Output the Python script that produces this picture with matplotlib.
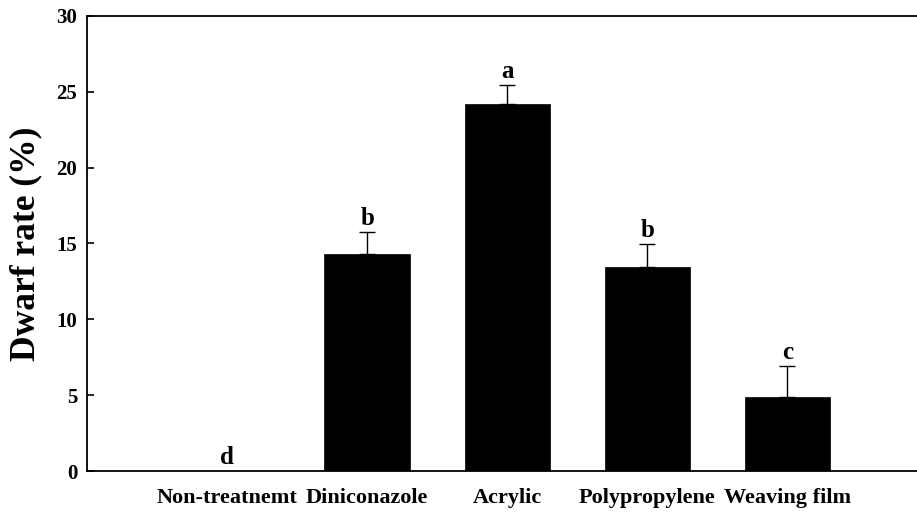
import matplotlib
matplotlib.use("Agg")
import matplotlib.pyplot as plt
import numpy as np

categories = ["Non-treatnemt", "Diniconazole", "Acrylic", "Polypropylene", "Weaving film"]
dwarf_rate = [0.0, 14.28, 24.19, 13.42, 4.87]
error_up = [0.0, 1.49, 1.25, 1.53, 2.08]
letters = ["d", "b", "a", "b", "c"]
yticks = [0, 5, 10, 15, 20, 25, 30]

plt.rcParams['font.family'] = ['Liberation Serif', 'DejaVu Serif']
plt.rcParams['font.weight'] = 'bold'

fig = plt.figure(figsize=(9.17, 5.12), dpi=100)
ax = fig.add_axes([0.0949, 0.080, 1.0 - 0.0949, 0.969 - 0.080])

x = np.arange(len(categories))
ax.bar(x, dwarf_rate, width=0.61, color='black', edgecolor='black', linewidth=0.5, zorder=2)
errx = [xi for xi, e in zip(x, error_up) if e > 0]
erry = [v for v, e in zip(dwarf_rate, error_up) if e > 0]
erre = [e for e in error_up if e > 0]
ax.errorbar(errx, erry, yerr=[np.zeros(len(erre)), erre], fmt='none', ecolor='black',
            elinewidth=1.0, capsize=6, capthick=1.0, zorder=3)

for xi, v, e, lab in zip(x, dwarf_rate, error_up, letters):
    ax.text(xi, v + e + 0.45, lab, ha='center', va='baseline', fontsize=18, fontweight='bold')

ax.set_xlim(-1.0, 4.925)
ax.set_ylim(0, 30)
ax.set_yticks(yticks)
ax.set_yticklabels([str(t) for t in yticks])
ax.set_xticks(x)
ax.set_xticklabels(categories)
ax.tick_params(axis='y', direction='in', length=5, width=1.2, labelsize=15, pad=7)
ax.tick_params(axis='x', length=0, labelsize=16, pad=12)
for lab in ax.get_xticklabels() + ax.get_yticklabels():
    lab.set_fontweight('bold')

ax.spines['right'].set_visible(False)
for s in ['left', 'bottom', 'top']:
    ax.spines[s].set_linewidth(1.3)

ax.set_ylabel("Dwarf rate (%)", fontsize=25.5, fontweight='bold')
ax.yaxis.set_label_coords(-0.054, 0.5)

fig.savefig("out.png", dpi=100)
